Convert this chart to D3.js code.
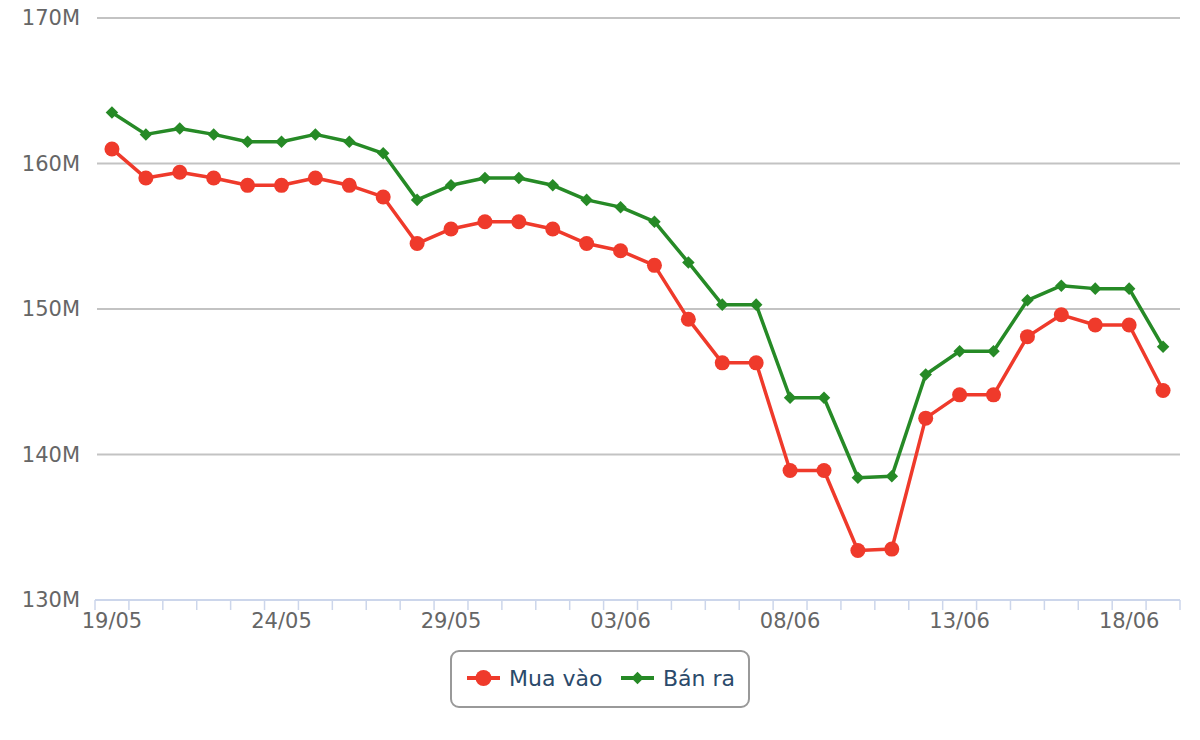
<!DOCTYPE html>
<html>
<head>
<meta charset="utf-8">
<script src="https://cdn.jsdelivr.net/npm/d3@7"></script>
<style>
  body { margin: 0; background: #fff; }
  svg { display: block; font-family: "DejaVu Sans", sans-serif; }
</style>
</head>
<body>
<svg width="1200" height="740"></svg>
<script>
// dates 19/05 -> 19/06
const dates = ["19/05","20/05","21/05","22/05","23/05","24/05","25/05","26/05","27/05","28/05","29/05","30/05","31/05",
  "01/06","02/06","03/06","04/06","05/06","06/06","07/06","08/06","09/06","10/06","11/06","12/06","13/06","14/06",
  "15/06","16/06","17/06","18/06","19/06"];
// prices in millions
const muaVao = [161.0,159.0,159.4,159.0,158.5,158.5,159.0,158.5,157.7,154.5,155.5,156.0,156.0,155.5,154.5,154.0,
  153.0,149.3,146.3,146.3,138.9,138.9,133.4,133.5,142.5,144.1,144.1,148.1,149.6,148.9,148.9,144.4];
const banRa = [163.5,162.0,162.4,162.0,161.5,161.5,162.0,161.5,160.7,157.5,158.5,159.0,159.0,158.5,157.5,157.0,
  156.0,153.2,150.3,150.3,143.9,143.9,138.4,138.5,145.5,147.1,147.1,150.6,151.6,151.4,151.4,147.4];
const yTicks = [130, 140, 150, 160, 170];

const plotL = 95, plotR = 1180, plotT = 18, plotB = 600;
const svg = d3.select("svg");

const x = d3.scaleBand().domain(dates).range([plotL, plotR]).padding(0);
const y = d3.scaleLinear().domain([130, 170]).range([plotB, plotT]);
const cx = d => x(d) + x.bandwidth() / 2;

// gridlines
svg.append("g").selectAll("line").data(yTicks.slice(1)).join("line")
  .attr("x1", plotL + 2).attr("x2", plotR)
  .attr("y1", d => y(d)).attr("y2", d => y(d))
  .attr("stroke", "#c3c3c3").attr("stroke-width", 2);

// y labels
svg.append("g").selectAll("text").data(yTicks).join("text")
  .attr("x", 80).attr("y", d => y(d) + 7)
  .attr("text-anchor", "end")
  .attr("font-size", 21).attr("fill", "#666")
  .text(d => d + "M");

// x axis line and ticks on category boundaries
svg.append("line")
  .attr("x1", plotL).attr("x2", plotR).attr("y1", plotB).attr("y2", plotB)
  .attr("stroke", "#ccd6eb").attr("stroke-width", 2);
svg.append("g").selectAll("line").data(dates.concat(["end"])).join("line")
  .attr("x1", (d, i) => i < dates.length ? x(d) : plotR)
  .attr("x2", (d, i) => i < dates.length ? x(d) : plotR)
  .attr("y1", plotB).attr("y2", plotB + 10)
  .attr("stroke", "#ccd6eb").attr("stroke-width", 1.5);

svg.append("g").selectAll("text").data(dates.filter((d, i) => i % 5 == 0)).join("text")
  .attr("x", d => cx(d)).attr("y", 628)
  .attr("text-anchor", "middle")
  .attr("font-size", 21).attr("fill", "#666")
  .text(d => d);

const line = d3.line().x((d, i) => cx(dates[i])).y(d => y(d));

// Bán ra (green, diamonds)
svg.append("path").datum(banRa).attr("d", line)
  .attr("fill", "none").attr("stroke", "#268a26").attr("stroke-width", 3.5)
  .attr("stroke-linejoin", "round");
const diamond = d3.symbol().type(d3.symbolDiamond2).size(100);
svg.append("g").selectAll("path").data(banRa).join("path")
  .attr("d", diamond)
  .attr("transform", (d, i) => `translate(${cx(dates[i])},${y(d)})`)
  .attr("fill", "#268a26");

// Mua vào (red, circles)
svg.append("path").datum(muaVao).attr("d", line)
  .attr("fill", "none").attr("stroke", "#ef3a2b").attr("stroke-width", 3.5)
  .attr("stroke-linejoin", "round");
svg.append("g").selectAll("circle").data(muaVao).join("circle")
  .attr("cx", (d, i) => cx(dates[i])).attr("cy", d => y(d))
  .attr("r", 7.5).attr("fill", "#ef3a2b");

// legend
const lg = svg.append("g");
lg.append("rect").attr("x", 451).attr("y", 651).attr("width", 298).attr("height", 56)
  .attr("rx", 8).attr("fill", "#fff").attr("stroke", "#999").attr("stroke-width", 2);
const items = [
  { name: "Mua vào", color: "#ef3a2b", sym: "circle", x: 467 },
  { name: "Bán ra", color: "#268a26", sym: "diamond", x: 621 }
];
items.forEach(it => {
  lg.append("line").attr("x1", it.x).attr("x2", it.x + 33).attr("y1", 678).attr("y2", 678)
    .attr("stroke", it.color).attr("stroke-width", 4);
  if (it.sym == "circle") {
    lg.append("circle").attr("cx", it.x + 16.5).attr("cy", 678).attr("r", 8).attr("fill", it.color);
  } else {
    lg.append("path").attr("d", diamond)
      .attr("transform", `translate(${it.x + 16.5},678)`).attr("fill", it.color);
  }
  lg.append("text").attr("x", it.x + 42).attr("y", 686)
    .attr("font-size", 22).attr("fill", "#2b4a6b").text(it.name);
});
</script>
</body>
</html>
